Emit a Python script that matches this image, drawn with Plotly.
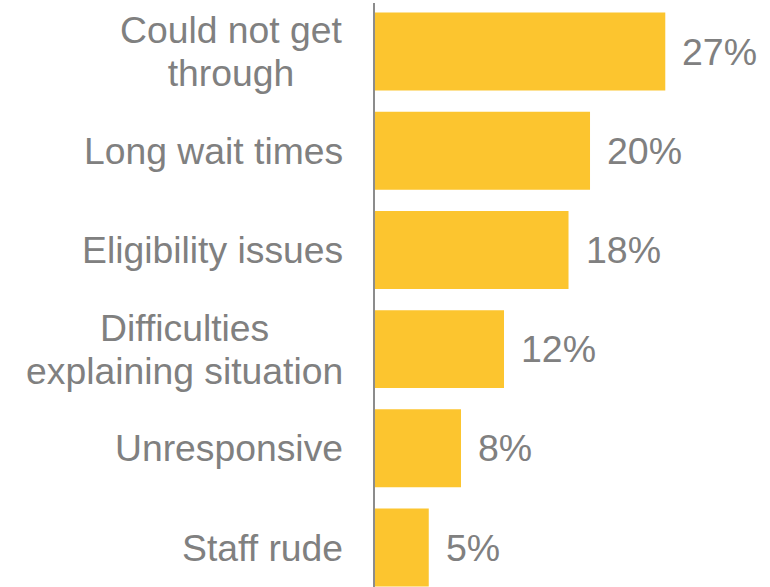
import plotly.graph_objects as go

# Survey responses: reasons for a poor experience
categories = [
    "Could not get<br>through",
    "Long wait times",
    "Eligibility issues",
    "Difficulties<br>explaining situation",
    "Unresponsive",
    "Staff rude",
]
percent = [27, 20, 18, 12, 8, 5]
value_labels = ["27%", "20%", "18%", "12%", "8%", "5%"]

BAR_COLOR = "#FCC52F"
TEXT_COLOR = "#808080"
AXIS_COLOR = "#8C8C8C"
FONT = "Liberation Sans, Arial, sans-serif"

fig = go.Figure(
    go.Bar(
        x=percent,
        y=categories,
        orientation="h",
        marker=dict(color=BAR_COLOR, line=dict(width=0)),
        width=0.786,
        hoverinfo="skip",
    )
)

annotations = []
for cat, val, lab in zip(categories, percent, value_labels):
    # value label just past the bar end
    annotations.append(dict(
        x=val, y=cat, xref="x", yref="y",
        text=lab, showarrow=False,
        xanchor="left", yanchor="middle", xshift=15,
        font=dict(family=FONT, size=37.5, color=TEXT_COLOR),
    ))
    # category label, centred lines, right-aligned block
    annotations.append(dict(
        x=0, y=cat, xref="paper", yref="y",
        text='<span style="font-size:37.3px">' + cat + "</span>",
        showarrow=False, align="center",
        xanchor="right", yanchor="middle", xshift=-30,
        font=dict(family=FONT, size=33, color=TEXT_COLOR),
    ))

fig.update_layout(
    width=770, height=587,
    margin=dict(l=375, r=0, t=3, b=0),
    paper_bgcolor="white", plot_bgcolor="white",
    showlegend=False,
    bargap=0.2,
    xaxis=dict(range=[0, 36.74], visible=False, fixedrange=True),
    yaxis=dict(
        type="category",
        categoryorder="array", categoryarray=categories,
        range=[5.398, -0.489],
        showticklabels=False, ticks="",
        showgrid=False, zeroline=False,
        showline=True, linecolor=AXIS_COLOR, linewidth=2,
        fixedrange=True,
    ),
    annotations=annotations,
)

fig.write_html("out.html")
